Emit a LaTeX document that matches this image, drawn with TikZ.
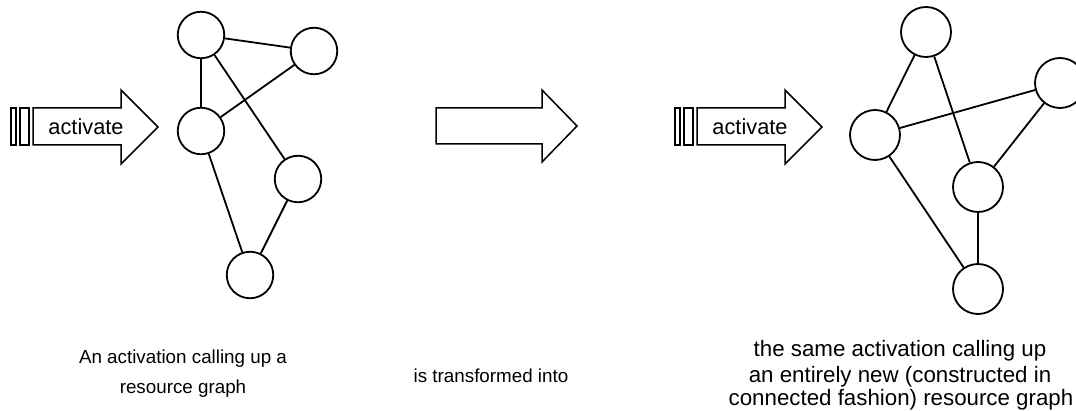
\documentclass[tikz,border=0pt]{standalone}
\usepackage{fontspec}
\setmainfont{Liberation Sans}
\begin{document}
\begin{tikzpicture}[x=1pt,y=-1pt,
  resA/.style={circle,draw=black,line width=1.8pt,fill=white,minimum size=46.5pt,inner sep=0pt},
  resB/.style={circle,draw=black,line width=1.8pt,fill=white,minimum size=50pt,inner sep=0pt},
  edge/.style={draw=black,line width=1.8pt},
  bigarrow/.style={draw=black,line width=1.5pt,fill=white,line join=miter},
  lbl/.style={font=\fontsize{18.8}{24}\selectfont,inner sep=0pt,anchor=base},
  lblbig/.style={font=\fontsize{22.3}{25}\selectfont,inner sep=0pt,anchor=base},
  actlbl/.style={font=\fontsize{21.8}{24}\selectfont,inner sep=0pt}]
\useasboundingbox (0,0) rectangle (1076,411);
% left activation arrow
\draw[bigarrow] (11,108) rectangle (16,145);
\draw[bigarrow] (20,108) rectangle (29,145);
\draw[bigarrow] (33,108) -- (121,108) -- (121,90) -- (158,127) -- (121,164) -- (121,145) -- (33,145) -- cycle;
\node[actlbl] (act1) at (86,127) {activate};
% middle arrow
\draw[bigarrow] (436,108) -- (542,108) -- (542,90) -- (577,126) -- (542,162) -- (542,144) -- (436,144) -- cycle;
% right activation arrow
\draw[bigarrow] (675,108) rectangle (680,145);
\draw[bigarrow] (684,108) rectangle (693,145);
\draw[bigarrow] (697,108) -- (785,108) -- (785,90) -- (822,127) -- (785,164) -- (785,145) -- (697,145) -- cycle;
\node[actlbl] (act2) at (750,127) {activate};
% left graph
\node[resA] (a) at (201,35) {};
\node[resA] (b) at (314,51) {};
\node[resA] (c) at (201,131) {};
\node[resA] (d) at (298,179) {};
\node[resA] (e) at (250,275) {};
\draw[edge] (a) -- (b);
\draw[edge] (a) -- (c);
\draw[edge] (a) -- (d);
\draw[edge] (b) -- (c);
\draw[edge] (c) -- (e);
\draw[edge] (d) -- (e);
% right graph
\node[resB] (f) at (926,32) {};
\node[resB] (g) at (1060,83) {};
\node[resB] (h) at (875,135) {};
\node[resB] (i) at (978,187) {};
\node[resB] (j) at (978,289) {};
\draw[edge] (f) -- (h);
\draw[edge] (f) -- (i);
\draw[edge] (h) -- (g);
\draw[edge] (g) -- (i);
\draw[edge] (i) -- (j);
\draw[edge] (h) -- (j);
% captions
\node[lbl] (cap1a) at (183,364) {An activation calling up a};
\node[lbl] (cap1b) at (183,393) {resource graph};
\node[lbl] (cap2) at (491,382) {is transformed into};
\node[lblbig] (cap3a) at (900,357) {the same activation calling up};
\node[lblbig] (cap3b) at (900,382) {an entirely new (constructed in};
\node[lblbig] (cap3c) at (901,406) {connected fashion) resource graph};
\end{tikzpicture}
\end{document}
